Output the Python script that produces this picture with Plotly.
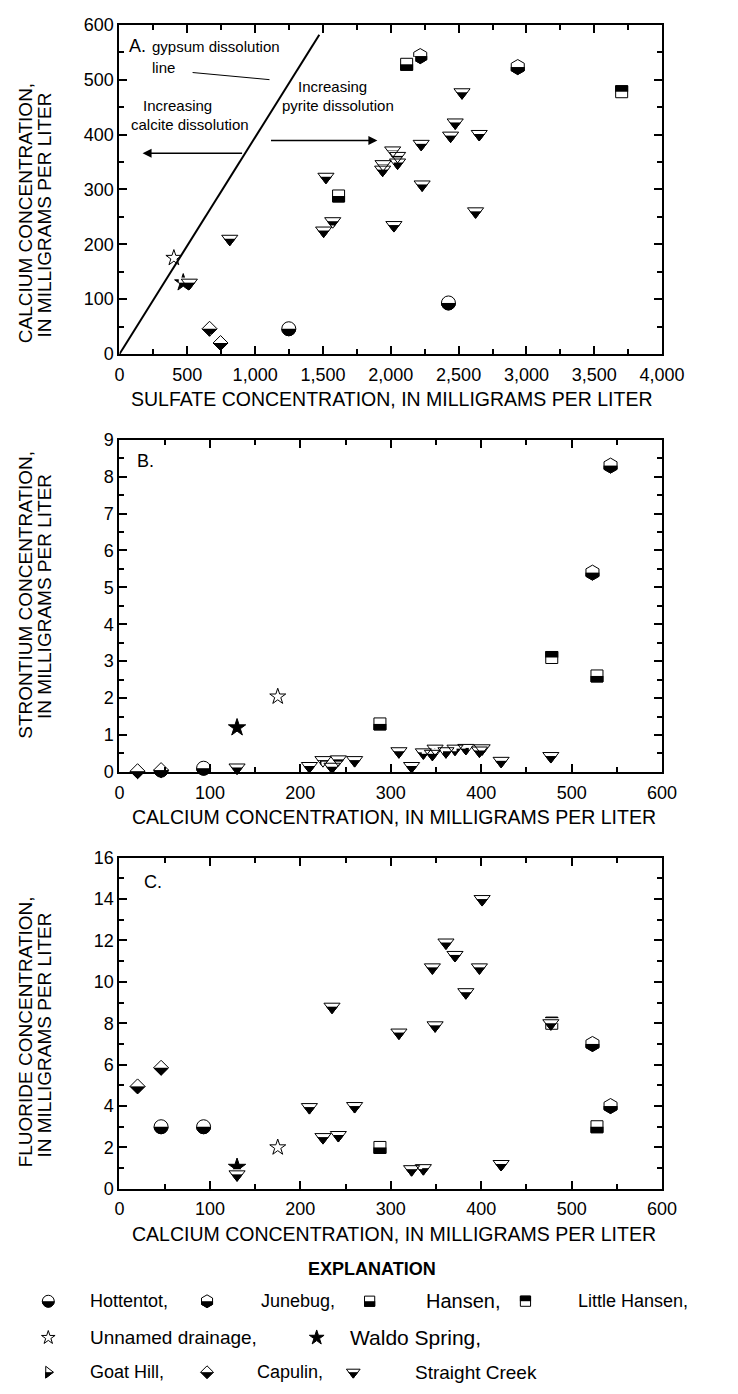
import plotly.graph_objects as go

# ---------------- data ----------------
HOTTENTOT_SO4 = [1248, 2425]
HOTTENTOT_CA = [46, 93]
HOTTENTOT_SR = [0.05, 0.10]
HOTTENTOT_F = [3.0, 3.0]

JUNEBUG_SO4 = [2936, 2217]
JUNEBUG_CA = [523, 543]
JUNEBUG_SR = [5.4, 8.3]
JUNEBUG_F = [7.0, 4.0]

HANSEN_SO4 = [1615, 2117]
HANSEN_CA = [288, 528]
HANSEN_SR = [1.3, 2.6]
HANSEN_F = [2.0, 3.0]

LITTLE_HANSEN_SO4 = [3702]
LITTLE_HANSEN_CA = [478]
LITTLE_HANSEN_SR = [3.1]
LITTLE_HANSEN_F = [8.0]

UNNAMED_SO4 = [401]
UNNAMED_CA = [175]
UNNAMED_SR = [2.04]
UNNAMED_F = [2.0]

WALDO_SO4 = [470]
WALDO_CA = [130]
WALDO_SR = [1.2]
WALDO_F = [1.05]

GOAT_HILL_SO4 = []
GOAT_HILL_CA = []
GOAT_HILL_SR = []
GOAT_HILL_F = []

CAPULIN_SO4 = [745, 664]
CAPULIN_CA = [20, 46]
CAPULIN_SR = [0.02, 0.05]
CAPULIN_F = [4.95, 5.85]

STRAIGHT_CA = [130, 210, 225, 235, 242, 260, 309, 323, 336, 346, 349, 361, 371, 383, 398, 401, 422, 477]
STRAIGHT_SO4 = [515, 813, 1505, 2023, 1572, 2625, 2231, 1522, 1940, 1943, 2050, 2050, 2014, 2224, 2441, 2652, 2475, 2525]
STRAIGHT_SR = [0.12, 0.16, 0.32, 0.14, 0.34, 0.32, 0.56, 0.16, 0.53, 0.49, 0.63, 0.56, 0.63, 0.65, 0.58, 0.64, 0.30, 0.43]
STRAIGHT_F = [0.7, 3.95, 2.5, 8.8, 2.6, 4.0, 7.55, 0.95, 1.0, 10.7, 7.9, 11.9, 11.3, 9.5, 10.7, 14.0, 1.2, 8.0]

GYPSUM_SO4 = [0, 1473]
GYPSUM_CA = [0, 582]

X_TICKS_A = [0, 500, 1000, 1500, 2000, 2500, 3000, 3500, 4000]
X_TICKS_BC = [0, 100, 200, 300, 400, 500, 600]

# ---------------- layout constants ----------------
W, H = 738, 1394
PX0, PX1 = 119, 683
PANEL_PX = {"A": (15, 349), "B": (436, 773), "C": (860, 1196)}
FONT = "Liberation Sans, Arial, Helvetica, sans-serif"


def px_x(p):
    return p / W


def px_y(p):
    return 1 - p / H


fig = go.Figure()

# symbol: (half-width factor, half-height factor) of r = size/2
EXT = {
    "circle": (1.0, 1.0),
    "hexagon": (0.87, 1.0),
    "square": (1.0, 1.0),
    "diamond": (1.3, 1.3),
    "triangle-down": (1.155, 0.5),
    "triangle-right": (1.0, 1.155),
}


def add_half(x, y, xa, ya, sym, size, black="lower", lw=1.0):
    """Half-filled marker: black shape, white mask over one half, outline on top."""
    r = size / 2.0
    hw, he = EXT[sym]
    w = he * r + 1.6
    ms = 2 * (hw * r + 2.5) / 1.4
    common = dict(x=x, y=y, xaxis=xa, yaxis=ya, mode="markers", cliponaxis=False,
                  hoverinfo="skip", showlegend=False)
    fig.add_trace(go.Scatter(**common, marker=dict(symbol=sym, size=size, color="black",
                                                   line=dict(color="black", width=lw))))
    fig.add_trace(go.Scatter(**common, marker=dict(symbol="line-ew", size=ms,
                                                   angle=180 if black == "lower" else 0,
                                                   standoff=w / 2,
                                                   line=dict(color="white", width=w))))
    fig.add_trace(go.Scatter(**common, marker=dict(symbol=sym + "-open", size=size, color="black",
                                                   line=dict(color="black", width=lw))))


def add_plain(x, y, xa, ya, sym, size, filled):
    fig.add_trace(go.Scatter(x=x, y=y, xaxis=xa, yaxis=ya, mode="markers", cliponaxis=False,
                             hoverinfo="skip", showlegend=False,
                             marker=dict(symbol=sym, size=size,
                                         color="black" if filled else "white",
                                         line=dict(color="black", width=1))))


SERIES = [
    # name, so4, ca, sr, f, symbol, size, kind
    ("Hottentot,", HOTTENTOT_SO4, HOTTENTOT_CA, HOTTENTOT_SR, HOTTENTOT_F, "circle", 14, "lower"),
    ("Junebug,", JUNEBUG_SO4, JUNEBUG_CA, JUNEBUG_SR, JUNEBUG_F, "hexagon", 15, "lower"),
    ("Hansen,", HANSEN_SO4, HANSEN_CA, HANSEN_SR, HANSEN_F, "square", 12, "lower"),
    ("Little Hansen,", LITTLE_HANSEN_SO4, LITTLE_HANSEN_CA, LITTLE_HANSEN_SR, LITTLE_HANSEN_F, "square", 12, "upper"),
    ("Unnamed drainage,", UNNAMED_SO4, UNNAMED_CA, UNNAMED_SR, UNNAMED_F, "star", 12, "open"),
    ("Waldo Spring,", WALDO_SO4, WALDO_CA, WALDO_SR, WALDO_F, "star", 13, "filled"),
    ("Goat Hill,", GOAT_HILL_SO4, GOAT_HILL_CA, GOAT_HILL_SR, GOAT_HILL_F, "triangle-right", 12, "lower"),
    ("Capulin,", CAPULIN_SO4, CAPULIN_CA, CAPULIN_SR, CAPULIN_F, "diamond", 11.5, "lower"),
    ("Straight Creek", STRAIGHT_SO4, STRAIGHT_CA, STRAIGHT_SR, STRAIGHT_F, "triangle-down", 14, "lower"),
]

PANELS = [("x", "y", 1, 2), ("x2", "y2", 2, 3), ("x3", "y3", 2, 4)]

for name, so4, ca, sr, fl, sym, size, kind in SERIES:
    cols = {1: so4, 2: ca, 3: sr, 4: fl}
    for xa, ya, xi, yi in PANELS:
        xs, ys = cols[xi], cols[yi]
        if not xs:
            continue
        if kind in ("lower", "upper"):
            add_half(xs, ys, xa, ya, sym, size, kind)
        else:
            add_plain(xs, ys, xa, ya, sym, size, kind == "filled")

# gypsum dissolution line
fig.add_trace(go.Scatter(x=GYPSUM_SO4, y=GYPSUM_CA, xaxis="x", yaxis="y", mode="lines",
                         line=dict(color="black", width=2), hoverinfo="skip", showlegend=False))

# ---------------- legend (drawn on a hidden pixel axis) ----------------
LEG_TOP = 1240
LEGEND = [
    # (row y px, symbol x px, text x px, series index, text size)
    (1310, 45, 86, 0, 18), (1310, 210, 264, 1, 18), (1310, 379, 436, 2, 20), (1310, 541, 594, 3, 18),
    (1347, 45, 86, 4, 19), (1347, 324, 357, 5, 21),
    (1382, 45, 86, 6, 18), (1382, 210, 260, 7, 18), (1382, 362, 424, 8, 19),
]
annotations = []
for ry, sx, tx, si, ts in LEGEND:
    name, _, _, _, _, sym, size, kind = SERIES[si]
    s = size * 0.85
    if kind in ("lower", "upper"):
        add_half([sx], [ry], "x4", "y4", sym, s, kind)
    else:
        add_plain([sx], [ry], "x4", "y4", sym, s, kind == "filled")
    annotations.append(dict(x=tx, y=ry, xref="x4", yref="y4", text=name, showarrow=False,
                            xanchor="left", yanchor="middle", font=dict(size=ts, family=FONT, color="black")))

annotations.append(dict(x=381, y=1277, xref="x4", yref="y4", text="<b>EXPLANATION</b>", showarrow=False,
                        xanchor="center", yanchor="middle", font=dict(size=18, family=FONT, color="black")))

# ---------------- axes ----------------
def axis_common(**kw):
    d = dict(showline=True, linecolor="black", linewidth=2, mirror="ticks", ticks="inside",
             ticklen=8, tickwidth=1.5, tickcolor="black", showgrid=False, zeroline=False,
             tickfont=dict(size=18, family=FONT, color="black"), fixedrange=True)
    d.update(kw)
    return d


def minor(dt):
    return dict(ticks="inside", ticklen=5, tickwidth=1.5, dtick=dt, tickcolor="black")


xd = [px_x(PX0), px_x(PX1)]
layout = dict(
    width=W, height=H, margin=dict(l=0, r=0, t=0, b=0),
    paper_bgcolor="white", plot_bgcolor="white", showlegend=False,
    font=dict(family=FONT, color="black"),
    xaxis=axis_common(domain=xd, range=[0, 4000], tickvals=X_TICKS_A, tickformat=",",
                      minor=minor(250), anchor="y", ticklabelstandoff=3),
    yaxis=axis_common(domain=[px_y(PANEL_PX["A"][1]), px_y(PANEL_PX["A"][0])], range=[0, 600], dtick=100,
                      minor=minor(50), anchor="x"),
    xaxis2=axis_common(domain=xd, range=[0, 600], tickvals=X_TICKS_BC,
                       minor=minor(50), anchor="y2", ticklabelstandoff=3),
    yaxis2=axis_common(domain=[px_y(PANEL_PX["B"][1]), px_y(PANEL_PX["B"][0])], range=[0, 9], dtick=1,
                       minor=minor(0.5), anchor="x2"),
    xaxis3=axis_common(domain=xd, range=[0, 600], tickvals=X_TICKS_BC,
                       minor=minor(50), anchor="y3", ticklabelstandoff=3),
    yaxis3=axis_common(domain=[px_y(PANEL_PX["C"][1]), px_y(PANEL_PX["C"][0])], range=[0, 16], dtick=2,
                       minor=minor(1), anchor="x3"),
    xaxis4=dict(domain=[0, 1], range=[0, W], visible=False, fixedrange=True, anchor="y4"),
    yaxis4=dict(domain=[0, 1 - LEG_TOP / H], range=[H, LEG_TOP], visible=False, fixedrange=True, anchor="x4"),
)

# axis titles
TITLES = [
    ("SULFATE CONCENTRATION, IN MILLIGRAMS PER LITER", 402, 395, 19.5, 0),
    ("CALCIUM CONCENTRATION, IN MILLIGRAMS PER LITER", 404, 819, 19.5, 0),
    ("CALCIUM CONCENTRATION, IN MILLIGRAMS PER LITER", 404, 1242, 19.5, 0),
    ("CALCIUM CONCENTRATION,", 21, 206, 19, -90),
    ("IN MILLIGRAMS PER LITER", 41, 208, 19, -90),
    ("STRONTIUM CONCENTRATION,", 21, 593, 19, -90),
    ("IN MILLIGRAMS PER LITER", 41, 595, 19, -90),
    ("FLUORIDE CONCENTRATION,", 21, 1037, 19, -90),
    ("IN MILLIGRAMS PER LITER", 41, 1040, 19, -90),
]
for t, x, y, s, ang in TITLES:
    annotations.append(dict(x=px_x(x), y=px_y(y), xref="paper", yref="paper", text=t, showarrow=False,
                            xanchor="center", yanchor="middle", textangle=ang,
                            font=dict(size=s, family=FONT, color="black")))

# panel labels
for t, x, y in [("A.", 127, 37), ("B.", 135, 458), ("C.", 142, 885)]:
    annotations.append(dict(x=px_x(x), y=px_y(y), xref="paper", yref="paper", text=t, showarrow=False,
                            xanchor="left", yanchor="middle", font=dict(size=18, family=FONT, color="black")))

# panel A notes (data coordinates of panel A)
NOTES = [
    ("gypsum dissolution", 225, 561),
    ("line", 225, 522),
    ("Increasing", 155, 453),
    ("calcite dissolution", 72, 419),
    ("Increasing", 1298, 488),
    ("pyrite dissolution", 1182, 453),
]
for t, x, y in NOTES:
    annotations.append(dict(x=x, y=y, xref="x", yref="y", text=t, showarrow=False, xanchor="left",
                            yanchor="middle", font=dict(size=15, family=FONT, color="black")))
# arrows
for (hx, hy, tx_, ty_) in [(170, 366, 915, 366), (1901, 389, 1106, 389)]:
    annotations.append(dict(x=hx, y=hy, ax=tx_, ay=ty_, xref="x", yref="y", axref="x", ayref="y",
                            text="", showarrow=True, arrowhead=2, arrowsize=1.2, arrowwidth=1.5,
                            arrowcolor="black"))

shapes = [dict(type="line", xref="x", yref="y", x0=539, y0=513, x1=1106, y1=500,
               line=dict(color="black", width=1))]

layout["annotations"] = annotations
layout["shapes"] = shapes
fig.update_layout(**layout)
fig.write_html("out.html", config={"displayModeBar": False},
               post_script="document.body.style.margin='0px';")
